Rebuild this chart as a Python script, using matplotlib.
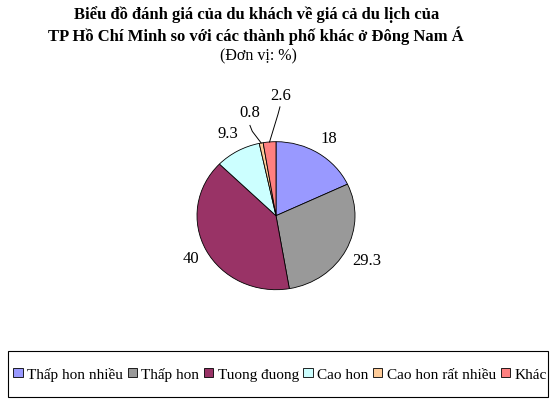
import matplotlib
matplotlib.use("Agg")
import matplotlib.pyplot as plt
import numpy as np
from matplotlib.patches import Rectangle

# ----------------------------------------------------------
# Data
# ----------------------------------------------------------
categories = ["Thấp hon nhiều", "Thấp hon", "Tuong đuong", "Cao hon",
              "Cao hon rất nhiều", "Khác"]
values = [18, 29.3, 40, 9.3, 0.8, 2.6]
value_labels = ["18", "29.3", "40", "9.3", "0.8", "2.6"]

colors = ["#9999FF", "#999999", "#993366", "#CCFFFF", "#FFCC99", "#FF8080"]

plt.rcParams["font.family"] = ["Liberation Serif", "DejaVu Serif"]

W, H = 551, 402
fig = plt.figure(figsize=(W / 100, H / 100), dpi=100)

# --- title ---
fig.text(257 / W, 1 - 15 / H, "Biểu đồ đánh giá của du khách về giá cả du lịch của",
         ha="center", va="center", fontsize=12, fontweight="bold")
fig.text(256 / W, 1 - 36 / H, "TP Hồ Chí Minh so với các thành phố khác ở Đông Nam Á",
         ha="center", va="center", fontsize=12, fontweight="bold")
fig.text(258 / W, 1 - 56 / H, "(Đơn vị: %)", ha="center", va="center", fontsize=11.5)

# --- pie (slightly wider than tall like the original) ---
cx, cy, rx, ry = 276, 216.7, 79, 74
ax = fig.add_axes([(cx - rx) / W, 1 - (cy + ry) / H, 2 * rx / W, 2 * ry / H])
wedges, _ = ax.pie(values, colors=colors, startangle=90, counterclock=False,
                   wedgeprops=dict(edgecolor="black", linewidth=0.6))
ax.set_aspect("auto")
ax.set_xlim(-1, 1)
ax.set_ylim(-1, 1)
ax.axis("off")

# label placement (distance from centre, extra offsets for the thin slices)
label_dist = [1.24, 1.30, 1.22, 1.27, None, None]
manual = {4: (-0.33, 1.40), 5: (0.06, 1.63)}
leader = {4: [(-0.30, 1.14), (-0.33, 1.22)], 5: [(0.025, 1.37), (0.05, 1.47)]}

for i, w in enumerate(wedges):
    mid = np.deg2rad((w.theta1 + w.theta2) / 2)
    if i in manual:
        x, y = manual[i]
        pts = [(np.cos(mid), np.sin(mid))] + leader[i]
        ax.plot([p[0] for p in pts], [p[1] for p in pts], color="black",
                linewidth=0.7, clip_on=False)
    else:
        x, y = label_dist[i] * np.cos(mid), label_dist[i] * np.sin(mid)
    ax.text(x, y, value_labels[i], ha="center", va="center", fontsize=12,
            clip_on=False)

# --- legend box ---
fig.patches.append(Rectangle((8 / W, 1 - 398 / H), 540 / W, 46 / H,
                             transform=fig.transFigure, fill=False,
                             edgecolor="black", linewidth=0.8))
fig.legend(wedges, categories, loc="center", bbox_to_anchor=(280 / W, 1 - 375 / H),
           ncol=6, frameon=False, fontsize=11, handlelength=0.6, handleheight=0.6,
           handletextpad=0.3, columnspacing=0.3, borderpad=0)

fig.savefig("out.png", dpi=100)
